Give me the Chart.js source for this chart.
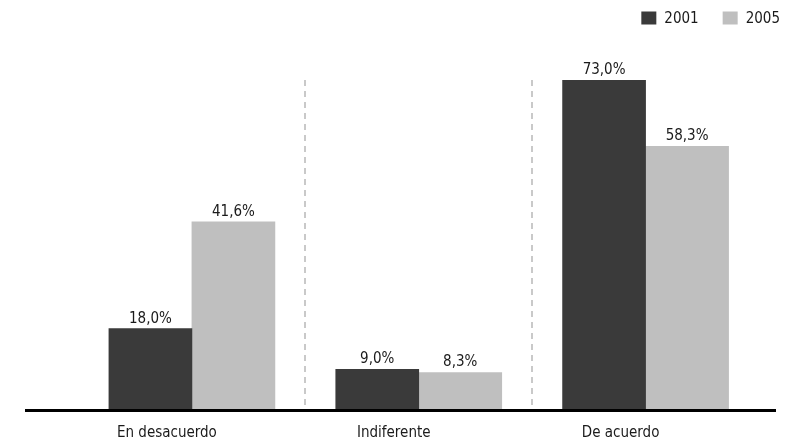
<!DOCTYPE html>
<html>
<head>
<meta charset="utf-8">
<script src="https://cdn.jsdelivr.net/npm/chart.js@4"></script>
<style>
  html, body { margin: 0; padding: 0; background: #fff; }
  #wrap { width: 796px; height: 441px; position: relative; }
</style>
</head>
<body>
<div id="wrap"><canvas id="chart"></canvas></div>
<script>
// data
const categories = ['En desacuerdo', 'Indiferente', 'De acuerdo'];
const seriesNames = ['2001', '2005'];
const values2001 = [18.0, 9.0, 73.0];
const values2005 = [41.6, 8.3, 58.3];

const FONT = "'DejaVu Sans Condensed', 'Liberation Sans Narrow', sans-serif";
const colors = ['#3a3a3a', '#bfbfbf'];

const fmt = v => v.toFixed(1).replace('.', ',') + '%';

// value labels above each bar
const barLabels = {
    id: 'barLabels',
    afterDatasetsDraw(chart) {
        const ctx = chart.ctx;
        ctx.save();
        ctx.font = '15px ' + FONT;
        ctx.fillStyle = '#1a1a1a';
        ctx.textAlign = 'center';
        ctx.textBaseline = 'alphabetic';
        chart.data.datasets.forEach((ds, i) => {
            chart.getDatasetMeta(i).data.forEach((bar, j) => {
                ctx.fillText(fmt(ds.data[j]), bar.x, bar.y - 6);
            });
        });
        ctx.restore();
    }
};

// thick black baseline, wider than the plot area
const baseline = {
    id: 'baseline',
    afterDatasetsDraw(chart) {
        const ctx = chart.ctx;
        const y = chart.scales.y.getPixelForValue(0) + 0.5;
        ctx.save();
        ctx.strokeStyle = '#000';
        ctx.lineWidth = 3;
        ctx.beginPath();
        ctx.moveTo(25, y);
        ctx.lineTo(776, y);
        ctx.stroke();
        ctx.restore();
    }
};

// legend in the top right corner
const cornerLegend = {
    id: 'cornerLegend',
    afterDraw(chart) {
        const ctx = chart.ctx;
        ctx.save();
        ctx.font = '15px ' + FONT;
        ctx.textBaseline = 'middle';
        ctx.textAlign = 'left';
        const box = 15, gap = 8, spacing = 24, right = 780, cy = 18;
        const items = chart.data.datasets.map(ds => ({
            text: ds.label, color: ds.backgroundColor,
            w: box + gap + ctx.measureText(ds.label).width
        }));
        let x = right - items.reduce((s, it) => s + it.w, 0) - spacing * (items.length - 1);
        items.forEach(it => {
            ctx.fillStyle = it.color;
            ctx.fillRect(x, cy - 6.5, box, 13);
            ctx.fillStyle = '#1a1a1a';
            ctx.fillText(it.text, x + box + gap, cy + 1);
            x += it.w + spacing;
        });
        ctx.restore();
    }
};

new Chart(document.getElementById('chart'), {
    type: 'bar',
    data: {
        labels: categories,
        datasets: [
            { label: seriesNames[0], data: values2001, backgroundColor: colors[0] },
            { label: seriesNames[1], data: values2005, backgroundColor: colors[1] }
        ]
    },
    options: {
        responsive: true,
        maintainAspectRatio: false,
        animation: false,
        events: [],
        layout: { padding: { left: 78.5, right: 37, top: 80, bottom: -16 } },
        datasets: { bar: { barThickness: 83, borderWidth: 0 } },
        plugins: {
            legend: { display: false },
            tooltip: { enabled: false }
        },
        scales: {
            x: {
                grid: {
                    offset: true,
                    drawTicks: false,
                    lineWidth: 2,
                    color: (c) => (c.index === 1 || c.index === 2) ? '#c9c9c9' : 'rgba(0,0,0,0)'
                },
                border: { display: false, dash: [6, 5] },
                ticks: {
                    color: '#1a1a1a',
                    font: { family: FONT, size: 15, lineHeight: '15px' },
                    padding: 16,
                    labelOffset: -25,
                    maxRotation: 0
                }
            },
            y: {
                display: false,
                min: 0,
                max: 73
            }
        }
    },
    plugins: [barLabels, baseline, cornerLegend]
});
</script>
</body>
</html>
